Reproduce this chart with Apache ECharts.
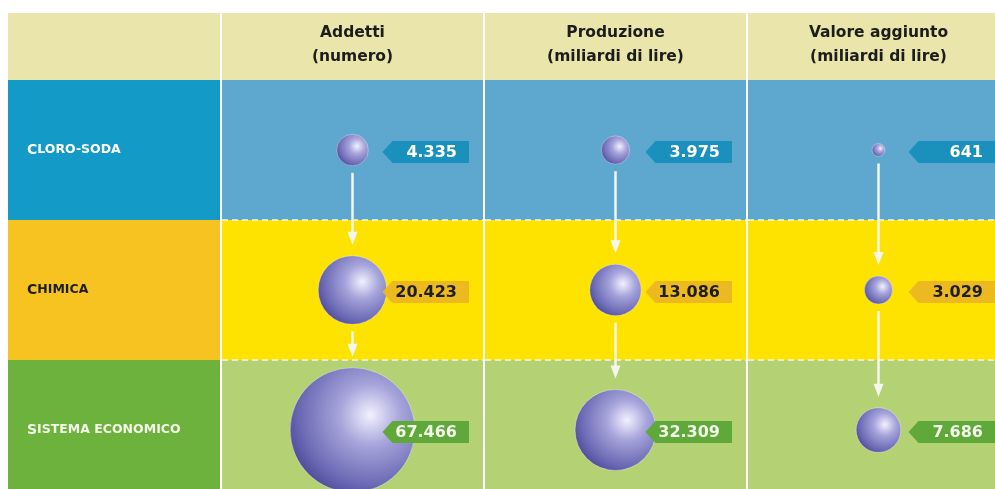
<!DOCTYPE html>
<html>
<head>
<meta charset="utf-8">
<script src="https://cdn.jsdelivr.net/npm/echarts@6/dist/echarts.min.js"></script>
<style>
  html, body { margin: 0; padding: 0; background: #fff; }
  #main-chart { width: 995px; height: 489px; }
</style>
</head>
<body>
<div id="main-chart"></div>
<script>
// data (Italian thousand separator = ".")
const columns = ['Addetti', 'Produzione', 'Valore aggiunto'];
const units = ['(numero)', '(miliardi di lire)', '(miliardi di lire)'];
const rows = ['Cloro-soda', 'Chimica', 'Sistema economico'];
const addetti = [4335, 20423, 67466];
const produzione = [3975, 13086, 32309];
const valoreAggiunto = [641, 3029, 7686];

const values = [addetti, produzione, valoreAggiunto];
// each column has its own bubble scale (diameter = k * sqrt(value))
const bubbleScale = [0.48, 0.45, 0.51];

const headerColor = '#e9e5ab';
const labelCellColors = ['#149ac6', '#f6c320', '#6cb23c'];
const dataCellColors = ['#5ea7cf', '#ffe300', '#b4d174'];
const tagColors = ['#1a90bd', '#ecb920', '#5fa83a'];
const tagTextColors = ['#ffffff', '#1e1e1e', '#f4f8e8'];
const labelTextColors = ['#ffffff', '#1e1e1e', '#f4f8e8'];
const HEADER_H = 67;

const fmt = v => String(v).replace(/\B(?=(\d{3})+(?!\d))/g, '.');
const sizeOf = (c, r) => bubbleScale[c] * Math.sqrt(values[c][r]);

const cells = [];
const points = [];
const arrows = [];
columns.forEach((col, c) => {
    rows.forEach((row, r) => {
        cells.push([c, r]);
        points.push([c, r, values[c][r]]);
        if (r < rows.length - 1) arrows.push([c, r]);
    });
});

const chartDom = document.getElementById('main-chart');
const myChart = echarts.init(chartDom);

function renderDataCell(params, api) {
    const c = api.value(0), r = api.value(1);
    const p = api.coord([c, r]);
    const s = api.size([1, 1]);
    const x0 = p[0] - s[0] / 2, y0 = p[1] - s[1] / 2;
    const children = [{
        type: 'rect',
        shape: { x: x0 + 1, y: y0, width: s[0] - 2, height: s[1] },
        style: { fill: dataCellColors[r] }
    }];
    if (r > 0) {
        children.push({
            type: 'line',
            shape: { x1: x0 + 1, y1: y0, x2: x0 + s[0] - 1, y2: y0 },
            style: { stroke: '#f6f6ee', lineWidth: 1.5, lineDash: [6, 4] }
        });
    } else {
        children.push({
            type: 'rect',
            shape: { x: x0 + 1, y: y0 - HEADER_H, width: s[0] - 2, height: HEADER_H },
            style: { fill: headerColor }
        });
    }
    return { type: 'group', children };
}

function renderLabelCell(params, api) {
    const r = api.value(1);
    const p = api.coord([0, r]);
    const s = api.size([1, 1]);
    const x0 = p[0] - s[0] / 2, y0 = p[1] - s[1] / 2;
    const children = [{
        type: 'rect',
        shape: { x: x0, y: y0, width: s[0] - 1, height: s[1] },
        style: { fill: labelCellColors[r] }
    }];
    if (r === 0) {
        children.push({
            type: 'rect',
            shape: { x: x0, y: y0 - HEADER_H, width: s[0] - 1, height: HEADER_H },
            style: { fill: headerColor }
        });
    }
    return { type: 'group', children };
}

function renderArrow(params, api) {
    const c = api.value(0), r = api.value(1);
    const a = api.coord([c, r]);
    const b = api.coord([c, r + 1]);
    const y1 = a[1] + sizeOf(c, r) / 2 + 7;
    const tip = b[1] - sizeOf(c, r + 1) / 2 - 11;
    const x = a[0];
    return {
        type: 'group',
        children: [
            { type: 'line', shape: { x1: x, y1: y1, x2: x, y2: tip - 8 },
              style: { stroke: '#f4f7ee', lineWidth: 2.5 } },
            { type: 'polygon', shape: { points: [[x - 5, tip - 13], [x + 5, tip - 13], [x, tip]] },
              style: { fill: '#f4f7ee' } }
        ]
    };
}

function renderTag(params, api) {
    const c = api.value(0), r = api.value(1);
    const p = api.coord([c, r]);
    const s = api.size([1, 1]);
    const cy = p[1] + 2;
    const tipX = p[0] + 30;
    const right = p[0] + s[0] / 2 - 15;
    const h = 11;
    return {
        type: 'group',
        children: [
            { type: 'polygon',
              shape: { points: [[tipX, cy], [tipX + 10, cy - h], [right, cy - h], [right, cy + h], [tipX + 10, cy + h]] },
              style: { fill: tagColors[r] } },
            { type: 'text',
              style: { x: right - 12, y: cy + 1, text: fmt(api.value(2)), align: 'right', verticalAlign: 'middle',
                       fill: tagTextColors[r], font: 'bold 16px "DejaVu Sans"' } }
        ]
    };
}

const option = {
    animation: false,
    backgroundColor: '#ffffff',
    grid: [
        { left: 221, top: 80, width: 789, height: 420, outerBoundsMode: 'none' },
        { left: 8, top: 80, width: 213, height: 420, outerBoundsMode: 'none' }
    ],
    xAxis: [
        {
            gridIndex: 0,
            type: 'category',
            position: 'top',
            data: columns,
            axisLine: { show: false },
            axisTick: { show: false },
            axisLabel: {
                margin: 11,
                formatter: (v, i) => '{t|' + v + '}\n{t|' + units[i] + '}',
                rich: {
                    t: { fontFamily: 'DejaVu Sans', fontWeight: 'bold', fontSize: 15.5, color: '#1c1c1c', lineHeight: 24 }
                }
            },
            z: 10
        },
        { gridIndex: 1, type: 'category', data: [''], show: false }
    ],
    yAxis: [
        { gridIndex: 0, type: 'category', inverse: true, data: rows, show: false },
        {
            gridIndex: 1,
            type: 'category',
            inverse: true,
            data: rows,
            axisLine: { show: false },
            axisTick: { show: false },
            axisLabel: {
                inside: true,
                margin: 19,
                color: (v, i) => labelTextColors[i],
                formatter: v => {
                    const up = v.toUpperCase();
                    return '{a|' + up.charAt(0) + '}{b|' + up.slice(1) + '}';
                },
                rich: {
                    a: { fontFamily: 'DejaVu Sans', fontWeight: 'bold', fontSize: 14 },
                    b: { fontFamily: 'DejaVu Sans', fontWeight: 'bold', fontSize: 12.5 }
                }
            },
            z: 10
        }
    ],
    series: [
        {
            type: 'custom', xAxisIndex: 1, yAxisIndex: 1, z: 1, silent: true,
            renderItem: renderLabelCell,
            data: rows.map((row, r) => [0, r])
        },
        {
            type: 'custom', xAxisIndex: 0, yAxisIndex: 0, z: 1, silent: true,
            renderItem: renderDataCell,
            data: cells
        },
        {
            type: 'custom', xAxisIndex: 0, yAxisIndex: 0, z: 2, silent: true,
            renderItem: renderArrow,
            data: arrows
        },
        {
            type: 'scatter', xAxisIndex: 0, yAxisIndex: 0, z: 3,
            data: points,
            symbolSize: val => bubbleScale[val[0]] * Math.sqrt(val[2]),
            itemStyle: {
                opacity: 1,
                color: new echarts.graphic.RadialGradient(0.64, 0.38, 0.7, [
                    { offset: 0, color: '#f3f1ff' },
                    { offset: 0.35, color: '#a6a4da' },
                    { offset: 0.8, color: '#6b69b4' },
                    { offset: 1, color: '#4c4a98' }
                ]),
                borderColor: 'rgba(255,255,255,0.35)',
                borderWidth: 1
            }
        },
        {
            type: 'custom', xAxisIndex: 0, yAxisIndex: 0, z: 4, silent: true,
            renderItem: renderTag,
            data: points
        }
    ]
};

myChart.setOption(option);
</script>
</body>
</html>
